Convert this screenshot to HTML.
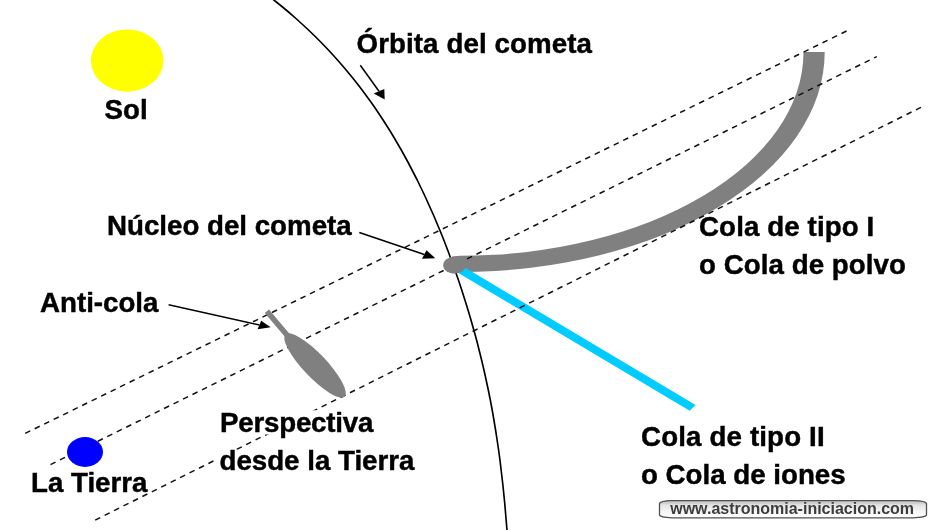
<!DOCTYPE html>
<html>
<head>
<meta charset="utf-8">
<style>
html,body{margin:0;padding:0;background:#fff;width:950px;height:530px;overflow:hidden}
svg{display:block;will-change:transform}
text{font-family:"Liberation Sans",sans-serif;font-weight:bold;font-size:27.7px;fill:#000;stroke:#000;stroke-width:0.45px}
</style>
</head>
<body>
<svg width="950" height="530" viewBox="0 0 950 530">
<defs>
<linearGradient id="wm" x1="0" y1="0" x2="0" y2="1">
<stop offset="0" stop-color="#c4c4c4"/>
<stop offset="0.18" stop-color="#d2d2d2"/>
<stop offset="0.24" stop-color="#e2e2e2"/>
<stop offset="0.6" stop-color="#f4f4f4"/>
<stop offset="1" stop-color="#ffffff"/>
</linearGradient>
</defs>
<rect width="950" height="530" fill="#fff"/>

<!-- Sun -->
<ellipse cx="127.2" cy="60.6" rx="36.3" ry="31.1" fill="#ffff00"/>

<!-- Orbit -->
<path d="M266.2,-6 L273.9,0 281.3,6 288.5,12 295.4,18 302.0,24 308.5,30 314.7,36 320.7,42 326.5,48 332.1,54 337.5,60 342.7,66 347.8,72 352.7,78 357.5,84 362.1,90 366.5,96 370.9,102 375.1,108 379.1,114 383.1,120 386.9,126 390.7,132 394.3,138 397.8,144 401.3,150 404.6,156 407.9,162 411.0,168 414.1,174 417.2,180 420.1,186 423.0,192 425.8,198 428.5,204 431.2,210 433.9,216 436.4,222 438.9,228 441.4,234 443.8,240 446.1,246 448.4,252 450.6,258 452.8,264 455.0,270 457.0,276 459.1,282 461.1,288 463.0,294 464.9,300 466.8,306 468.6,312 470.4,318 472.1,324 473.8,330 475.5,336 477.1,342 478.6,348 480.1,354 481.6,360 483.0,366 484.4,372 485.7,378 487.0,384 488.3,390 489.5,396 490.7,402 491.8,408 492.9,414 493.9,420 494.9,426 495.9,432 496.8,438 497.7,444 498.6,450 499.4,456 500.2,462 500.9,468 501.6,474 502.3,480 503.0,486 503.6,492 504.2,498 504.8,504 505.3,510 505.8,516 506.3,522 506.8,528 507.3,534" fill="none" stroke="#000" stroke-width="1.65" stroke-linejoin="round"/>

<!-- Dust tail (type I) -->
<path d="M803.5,52 A343.5,203.8 0 0 1 460,255.8 L452,256.4 L452,273.6 L460,272 A364.7,220 0 0 0 824.7,52 Z" fill="#808080"/>

<!-- Ion tail (type II) -->
<polygon points="454.05,261.06 695.6,405.0 689.7,410.8 449.95,267.94" fill="#00ccff"/>

<!-- Dashed lines -->
<g stroke="#111" stroke-width="1.5" stroke-dasharray="5.6 4.97" fill="none">
<line x1="25.2" y1="433.4" x2="846.6" y2="31"/>
<line x1="50.5" y1="464.6" x2="876.8" y2="56.6" stroke-dasharray="5.6 4.958"/>
<line x1="95.2" y1="520.1" x2="921" y2="107.3" stroke-dasharray="5.6 4.947"/>
</g>

<!-- Nucleus -->
<ellipse cx="454.5" cy="265.2" rx="11.3" ry="8.4" fill="#808080"/>

<!-- Earth -->
<ellipse cx="85" cy="452" rx="18" ry="15" fill="#0000ff"/>

<!-- Anti-tail -->
<line x1="266.9" y1="311.3" x2="292" y2="341" stroke="#808080" stroke-width="5.5"/>
<ellipse cx="315" cy="365.4" rx="43" ry="11.7" transform="rotate(46.5 315 365.4)" fill="#808080"/>

<!-- Arrows -->
<g stroke="#000" stroke-width="1.5" fill="none">
<line x1="360.3" y1="65.3" x2="379" y2="91.2"/>
<line x1="359.3" y1="232.5" x2="424.3" y2="254.5"/>
<line x1="168.6" y1="304.8" x2="259.4" y2="325"/>
</g>
<g fill="#000">
<polygon points="373.7,93.5 384.3,88.9 384.7,99.5"/>
<polygon points="426.5,250.2 422,258.7 435.3,258.2"/>
<polygon points="261.2,320.7 257.5,329.2 270.6,327.3"/>
</g>

<!-- Label backgrounds -->
<rect x="216" y="410.3" width="160" height="24.2" fill="#fff"/>
<rect x="216" y="449.8" width="200" height="26" fill="#fff"/>

<!-- Labels -->
<text x="356.5" y="53" textLength="235.4" lengthAdjust="spacing">Órbita del cometa</text>
<text x="104.5" y="119">Sol</text>
<text x="107" y="235">Núcleo del cometa</text>
<text x="40" y="312">Anti-cola</text>
<text x="31" y="492">La Tierra</text>
<text x="220" y="432" textLength="153.4" lengthAdjust="spacing">Perspectiva</text>
<text x="219.5" y="470">desde la Tierra</text>
<text x="699" y="235.5" textLength="175.3" lengthAdjust="spacing">Cola de tipo I</text>
<text x="699" y="273.5" textLength="206.9" lengthAdjust="spacing">o Cola de polvo</text>
<text x="641" y="445.5" textLength="183.6" lengthAdjust="spacing">Cola de tipo II</text>
<text x="641" y="483.5">o Cola de iones</text>

<!-- Watermark -->
<path d="M659.5,503.5 Q660,501 672,500.6 L913,500.6 Q926,501 926.5,503.5 L926.5,515 Q926,517.2 913,517.8 L672,517.8 Q660,517.2 659.5,515 Z" fill="url(#wm)" stroke="#505050" stroke-width="1.3"/>
<text x="670.2" y="514" style="font-size:16px;fill:#3c3c3c;stroke:none">www.astronomia-iniciacion.com</text>
</svg>
</body>
</html>
